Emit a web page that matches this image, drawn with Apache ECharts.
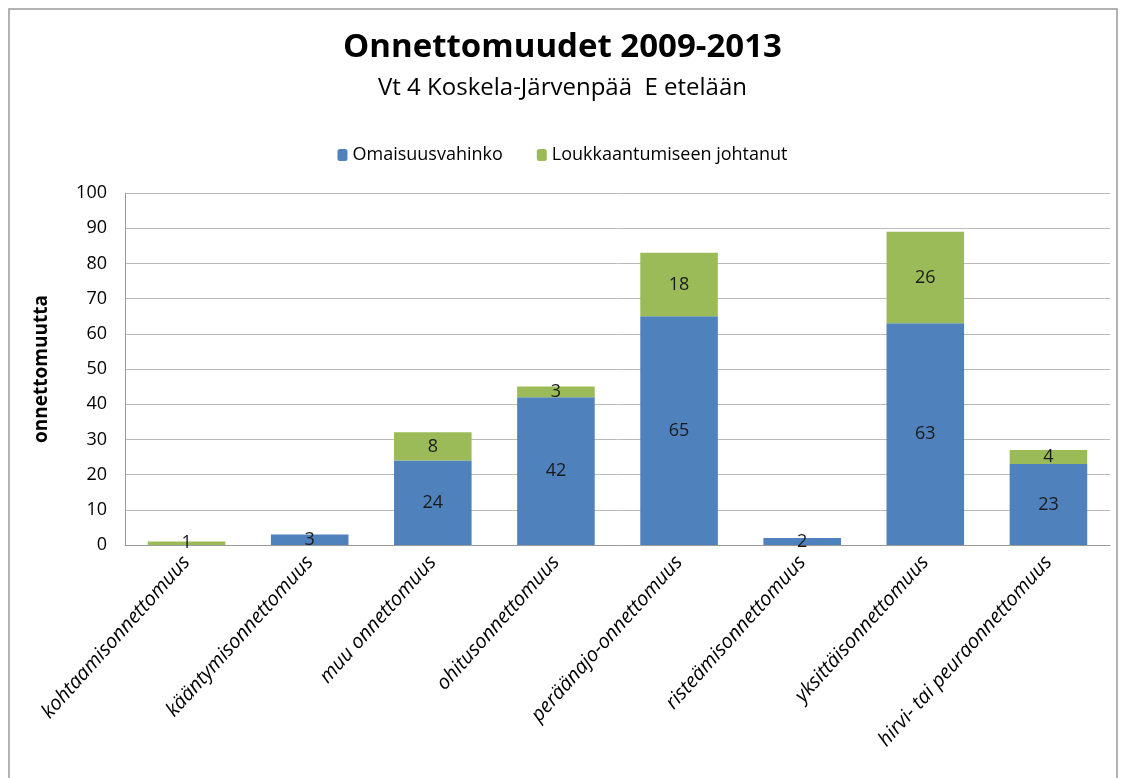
<!DOCTYPE html>
<html><head><meta charset="utf-8">
<script src="https://cdn.jsdelivr.net/npm/echarts@6/dist/echarts.min.js"></script>
<style>html,body{margin:0;padding:0;background:#fff}#c{width:1125px;height:778px}</style>
</head><body><div id="c"></div>
<script>
const categories = ['kohtaamisonnettomuus','kääntymisonnettomuus','muu onnettomuus','ohitusonnettomuus','peräänajo-onnettomuus','risteämisonnettomuus','yksittäisonnettomuus','hirvi- tai peuraonnettomuus'];
const omaisuusvahinko = [0, 3, 24, 42, 65, 2, 63, 23];
const loukkaantumiseen = [1, 0, 8, 3, 18, 0, 26, 4];
const yTicks = [0,10,20,30,40,50,60,70,80,90,100];

const F = '"Open Sans", "Noto Sans", sans-serif';
const chart = echarts.init(document.getElementById('c'));
const lbl = {
  show: true, position: 'inside', color: '#1a1a1a', fontSize: 18, fontFamily: F,
  formatter: p => p.value === 0 ? '' : String(p.value)
};
chart.setOption({
  animation: false,
  graphic: [{type:'rect', shape:{x:9, y:9, width:1108, height:780}, style:{fill:'none', stroke:'#999', lineWidth:1.5}, silent:true}],
  title: {
    text: 'Onnettomuudet 2009-2013', subtext: 'Vt 4 Koskela-Järvenpää  E etelään',
    left: 'center', top: 26, itemGap: 12,
    textStyle: {fontFamily: F, fontSize: 33, fontWeight: 'bold', color: '#000'},
    subtextStyle: {fontFamily: F, fontSize: 24, color: '#000'}
  },
  legend: {
    top: 141, left: 'center', itemWidth: 10, itemHeight: 12, itemGap: 34,
    textStyle: {fontFamily: F, fontSize: 18, color: '#000'},
    data: ['Omaisuusvahinko','Loukkaantumiseen johtanut']
  },
  grid: {left: 125, right: 15, top: 193, bottom: 233, containLabel: false},
  xAxis: {
    type: 'category', data: categories,
    axisLine: {lineStyle: {color: '#999'}}, axisTick: {show: false},
    axisLabel: {interval: 0, rotate: 48, fontFamily: F, fontSize: 20, fontStyle: 'italic', color: '#000', margin: 14}
  },
  yAxis: {
    type: 'value', min: 0, max: 100, interval: 10,
    name: 'onnettomuutta', nameLocation: 'middle', nameGap: 74, nameRotate: 90,
    nameTextStyle: {fontFamily: F, fontSize: 19, fontWeight: 'bold', color: '#000'},
    axisLine: {show: true, lineStyle: {color: '#999'}}, axisTick: {show: false},
    axisLabel: {fontFamily: F, fontSize: 18, color: '#000', margin: 18},
    splitLine: {lineStyle: {color: '#bbb'}}
  },
  series: [
    {name: 'Omaisuusvahinko', type: 'bar', stack: 's', data: omaisuusvahinko, barWidth: '63%', itemStyle: {color: '#4F81BD'}, label: lbl},
    {name: 'Loukkaantumiseen johtanut', type: 'bar', stack: 's', data: loukkaantumiseen, barWidth: '63%', itemStyle: {color: '#9BBB59'}, label: lbl}
  ]
});
</script></body></html>
